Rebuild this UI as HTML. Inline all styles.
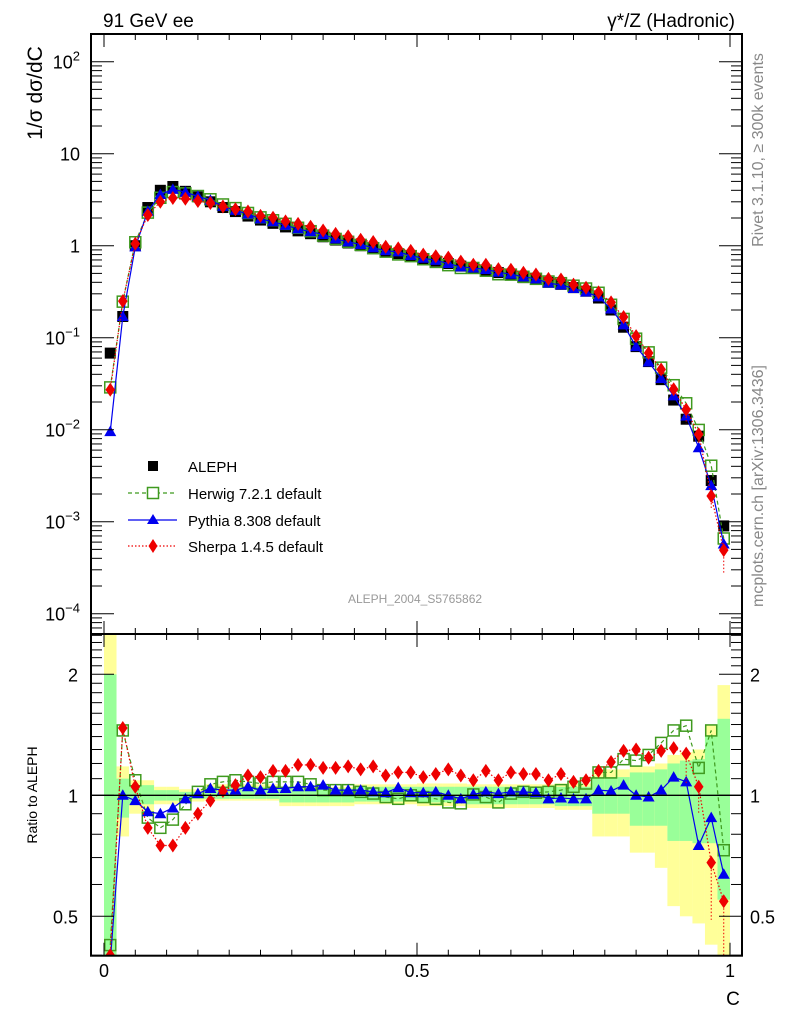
<!DOCTYPE html>
<html><head><meta charset="utf-8">
<style>
html,body{margin:0;padding:0;background:#fff;overflow:hidden;width:786px;height:1024px;}
svg{display:block;font-family:"Liberation Sans",sans-serif;}
</style></head>
<body>
<svg id="chart" width="786" height="1024" viewBox="0 0 786 1024" xmlns="http://www.w3.org/2000/svg">
<g id="bands"></g>
<g id="marks"></g>
<g id="axes"></g>
<text x="103" y="27" font-size="19">91 GeV ee</text>
<text x="735" y="27" font-size="19" text-anchor="end">γ*/Z (Hadronic)</text>
<text transform="translate(42,93) rotate(-90)" font-size="21" text-anchor="middle">1/σ  dσ/dC</text>
<text transform="translate(37,795) rotate(-90)" font-size="14" text-anchor="middle">Ratio to ALEPH</text>
<text x="733" y="1005" font-size="19" text-anchor="middle">C</text>
<text transform="translate(763,150) rotate(-90)" font-size="16" fill="#888" text-anchor="middle">Rivet 3.1.10, ≥ 300k events</text>
<text transform="translate(763,486) rotate(-90)" font-size="16" fill="#888" text-anchor="middle">mcplots.cern.ch [arXiv:1306.3436]</text>
<text x="415" y="603" font-size="12" fill="#999" text-anchor="middle">ALEPH_2004_S5765862</text>
<g id="legend">
  <g>
    <rect x="148" y="461" width="10" height="10" fill="#000"/>
    <text x="188" y="472" font-size="15">ALEPH</text>
  </g>
  <g>
    <line x1="128" y1="493" x2="177" y2="493" stroke="#3f9a1f" stroke-width="1.3" stroke-dasharray="4,3"/>
    <rect x="147.5" y="487.5" width="11" height="11" fill="#fff" stroke="#3f9a1f" stroke-width="1.5"/>
    <text x="188" y="499" font-size="15">Herwig 7.2.1 default</text>
  </g>
  <g>
    <line x1="128" y1="520" x2="177" y2="520" stroke="#0000ee" stroke-width="1.3"/>
    <polygon points="153,514 159,524 147,524" fill="#0000ee"/>
    <text x="188" y="526" font-size="15">Pythia 8.308 default</text>
  </g>
  <g>
    <line x1="128" y1="546" x2="177" y2="546" stroke="#ee0000" stroke-width="1.3" stroke-dasharray="1.5,2"/>
    <polygon points="153,539 157.5,546 153,553 148.5,546" fill="#ee0000"/>
    <text x="188" y="552" font-size="15">Sherpa 1.4.5 default</text>
  </g>
</g>
</svg>
<script>
const binCenters = [0.01,0.03,0.05,0.07,0.09,0.11,0.13,0.15,0.17,0.19,0.21,0.23,0.25,0.27,0.29,0.31,0.33,0.35,0.37,0.39,0.41,0.43,0.45,0.47,0.49,0.51,0.53,0.55,0.57,0.59,0.61,0.63,0.65,0.67,0.69,0.71,0.73,0.75,0.77,0.79,0.81,0.83,0.85,0.87,0.89,0.91,0.93,0.95,0.97,0.99];
const alephValues = [0.068,0.17,1.0,2.6,4.0,4.4,3.9,3.4,3.0,2.6,2.35,2.1,1.9,1.75,1.6,1.45,1.35,1.25,1.15,1.07,1.0,0.93,0.87,0.82,0.77,0.72,0.68,0.64,0.6,0.57,0.54,0.51,0.48,0.45,0.43,0.4,0.38,0.35,0.32,0.27,0.2,0.13,0.08,0.055,0.035,0.021,0.013,0.0085,0.0028,0.0009];
const herwigRatio = [0.424,1.45,1.09,0.88,0.83,0.87,0.95,1.02,1.065,1.08,1.09,1.08,1.07,1.08,1.08,1.08,1.065,1.03,1.03,1.03,1.02,1.01,0.99,0.98,1.0,0.99,0.98,0.96,0.955,1.005,0.99,0.96,1.01,1.02,1.015,1.02,1.03,1.05,1.07,1.14,1.14,1.23,1.22,1.26,1.35,1.45,1.49,1.17,1.45,0.73];
const pythiaRatio = [0.14,1.0,0.97,0.91,0.9,0.93,0.98,1.01,1.04,1.03,1.03,1.05,1.03,1.04,1.04,1.05,1.05,1.06,1.03,1.03,1.03,1.02,1.015,1.045,1.015,1.015,1.02,1.0,0.98,1.005,1.02,1.01,1.02,1.02,1.015,0.98,0.985,0.98,0.98,1.03,1.025,1.06,1.0,0.99,1.03,1.11,1.08,0.75,0.88,0.636];
const sherpaRatio = [0.40,1.47,1.05,0.83,0.75,0.75,0.83,0.9,0.97,1.025,1.06,1.12,1.11,1.15,1.15,1.19,1.19,1.17,1.17,1.18,1.16,1.18,1.12,1.14,1.14,1.11,1.13,1.16,1.12,1.09,1.15,1.09,1.14,1.13,1.13,1.09,1.13,1.08,1.09,1.15,1.21,1.29,1.3,1.24,1.29,1.31,1.27,1.05,0.68,0.545];
const sherpaErrLo = [0,0,0,0,0,0,0,0,0,0,0,0,0,0,0,0,0,0,0,0,0,0,0,0,0,0,0,0,0,0,0,0,0,0,0,0,0,0,0,0,0,0,0,0,0,0,0.2,0.15,0.19,0.3];
const yellowUp = [3,1.18,1.09,1.09,1.05,1.05,1.035,1.035,1.065,1.065,1.065,1.065,1.065,1.065,1.05,1.05,1.05,1.05,1.05,1.05,1.065,1.065,1.065,1.065,1.065,1.07,1.07,1.07,1.07,1.065,1.065,1.065,1.065,1.065,1.065,1.065,1.07,1.07,1.07,1.16,1.16,1.16,1.18,1.18,1.2,1.26,1.28,1.3,1.5,1.88];
const yellowDn = [0.3,0.79,0.9,0.9,0.95,0.95,0.965,0.965,0.97,0.97,0.97,0.97,0.97,0.97,0.94,0.94,0.94,0.94,0.94,0.94,0.95,0.95,0.95,0.95,0.95,0.94,0.94,0.94,0.94,0.93,0.93,0.93,0.93,0.93,0.93,0.93,0.92,0.92,0.92,0.79,0.79,0.79,0.72,0.72,0.66,0.53,0.5,0.48,0.425,0.3];
const greenUp = [2.0,1.1,1.06,1.06,1.03,1.03,1.02,1.02,1.05,1.05,1.05,1.05,1.05,1.05,1.04,1.04,1.04,1.04,1.04,1.04,1.05,1.05,1.05,1.05,1.05,1.05,1.05,1.05,1.05,1.05,1.05,1.05,1.05,1.05,1.05,1.05,1.05,1.05,1.05,1.11,1.11,1.11,1.14,1.14,1.16,1.2,1.22,1.23,1.4,1.55];
const greenDn = [0.3,0.88,0.95,0.95,0.97,0.97,0.98,0.98,0.98,0.98,0.98,0.98,0.98,0.98,0.96,0.96,0.96,0.96,0.96,0.96,0.965,0.965,0.965,0.965,0.965,0.96,0.96,0.96,0.96,0.95,0.95,0.95,0.95,0.95,0.95,0.95,0.94,0.94,0.94,0.9,0.9,0.9,0.84,0.84,0.84,0.77,0.77,0.76,0.76,0.55];
const topTickLabels = ["10^-4","10^-3","10^-2","10^-1","1","10","10^2"];
const ratioTickValues = [0.5,1,2];
const xTickValues = [0,0.5,1];

const NS = "http://www.w3.org/2000/svg";
const L = 91, R = 742, TT = 34, TB = 634, BB = 955.7;
const xs = c => 104 + 626 * c;
const yTop = v => 245.7 - 92 * Math.log10(v);
const yRat = r => 795.3 - 121 * Math.log2(r);
const clampB = y => Math.max(TB, Math.min(BB, y));
const clampT = y => Math.max(TT, Math.min(TB, y));
function mk(tag, attrs, parent) {
  const e = document.createElementNS(NS, tag);
  for (const k in attrs) e.setAttribute(k, attrs[k]);
  parent.appendChild(e); return e;
}
const bands = document.getElementById('bands');
const marks = document.getElementById('marks');
const axes = document.getElementById('axes');

const defs = mk('defs', {}, document.getElementById('chart'));
const c1 = mk('clipPath', {id: 'clipTop'}, defs); mk('rect', {x: L, y: TT, width: R - L, height: TB - TT}, c1);
const c2 = mk('clipPath', {id: 'clipBot'}, defs); mk('rect', {x: L, y: TB, width: R - L, height: BB - TB}, c2);
bands.setAttribute('clip-path', 'url(#clipBot)');

binCenters.forEach((c, i) => {
  const x0 = xs(c - 0.01), x1 = xs(c + 0.01);
  const yu = clampB(yRat(yellowUp[i])), yd = clampB(yRat(yellowDn[i]));
  const yb = mk('rect', {x: x0, y: yu, width: x1 - x0, height: yd - yu, fill: '#ffff99'}, bands);
  
  
  const gu = clampB(yRat(greenUp[i])), gd = clampB(yRat(greenDn[i]));
  const gb = mk('rect', {x: x0, y: gu, width: x1 - x0, height: gd - gu, fill: '#99ff99'}, bands);
  
  
});
mk('line', {x1: L, x2: R, y1: yRat(1), y2: yRat(1), stroke: '#000', 'stroke-width': 1.3}, axes);

const series = [
  {name: 'herwig', ratio: herwigRatio, color: '#3f9a1f', dash: '4,3', marker: 'osq'},
  {name: 'pythia', ratio: pythiaRatio, color: '#0000ee', dash: '', marker: 'tri'},
  {name: 'sherpa', ratio: sherpaRatio, color: '#ee0000', dash: '1.5,2', marker: 'dia'}
];
function marker(type, x, y, color, g) {
  let e;
  if (type === 'osq') e = mk('rect', {x: x - 5.5, y: y - 5.5, width: 11, height: 11, fill: 'none', stroke: color, 'stroke-width': 1.5}, g);
  else if (type === 'tri') e = mk('polygon', {points: `${x},${y - 6} ${x + 6},${y + 4.5} ${x - 6},${y + 4.5}`, fill: color}, g);
  else if (type === 'dia') e = mk('polygon', {points: `${x},${y - 7} ${x + 4.8},${y} ${x},${y + 7} ${x - 4.8},${y}`, fill: color}, g);
  else e = mk('rect', {x: x - 5.5, y: y - 5.5, width: 11, height: 11, fill: color}, g);
  return e;
}
const gTop = mk('g', {'clip-path': 'url(#clipTop)'}, marks);
const gBot = mk('g', {'clip-path': 'url(#clipBot)'}, marks);
binCenters.forEach((c, i) => {
  const m = marker('sq', xs(c), yTop(alephValues[i]), '#000', gTop);
  
  
});
series.forEach(s => {
  const ptsTop = binCenters.map((c, i) => `${xs(c)},${clampT(yTop(alephValues[i] * s.ratio[i]))}`).join(' ');
  const lt = mk('polyline', {points: ptsTop, fill: 'none', stroke: s.color, 'stroke-width': 1.2, 'stroke-dasharray': s.dash}, gTop);
  
  
  const ptsBot = binCenters.map((c, i) => `${xs(c)},${Math.min(BB + 6, yRat(s.ratio[i]))}`).join(' ');
  const lb = mk('polyline', {points: ptsBot, fill: 'none', stroke: s.color, 'stroke-width': 1.2, 'stroke-dasharray': s.dash}, gBot);
  
  
  binCenters.forEach((c, i) => {
    if (s.name === 'sherpa' && sherpaErrLo[i] > 0) {
      const v = alephValues[i] * s.ratio[i];
      mk('line', {x1: xs(c), x2: xs(c), y1: yTop(v), y2: clampT(yTop(v * (1 - sherpaErrLo[i] * 1.5))), stroke: s.color, 'stroke-dasharray': '1.5,2'}, gTop);
      mk('line', {x1: xs(c), x2: xs(c), y1: yRat(s.ratio[i]), y2: clampB(yRat(s.ratio[i] - sherpaErrLo[i])), stroke: s.color, 'stroke-dasharray': '1.5,2'}, gBot);
    }
    const yb = yRat(s.ratio[i]);
    if (yb < BB + 8) {
      const m2 = marker(s.marker, xs(c), yb, s.color, gBot);
      
      
    }
    const m1 = marker(s.marker, xs(c), yTop(alephValues[i] * s.ratio[i]), s.color, gTop);
    
    
  });
});

mk('rect', {x: L, y: TT, width: R - L, height: BB - TT, fill: 'none', stroke: '#000', 'stroke-width': 2}, axes);
mk('line', {x1: L, x2: R, y1: TB, y2: TB, stroke: '#000', 'stroke-width': 2}, axes);

for (let k = 0; k <= 20; k++) {
  const c = k * 0.05, x = xs(c), len = (k % 10 === 0) ? 13 : 6;
  [TT, TB].forEach(y => mk('line', {x1: x, x2: x, y1: y, y2: y + len, stroke: '#000', 'stroke-width': 1}, axes));
  [TB, BB].forEach(y => mk('line', {x1: x, x2: x, y1: y, y2: y - len, stroke: '#000', 'stroke-width': 1}, axes));
}
xTickValues.forEach(v => {
  const t = mk('text', {x: xs(v), y: 977, 'font-size': 18, 'text-anchor': 'middle'}, axes);
  t.textContent = String(v);
  
  
});
for (let d = -5; d <= 2; d++) {
  for (let m = 1; m <= 9; m++) {
    const v = m * Math.pow(10, d), y = yTop(v);
    if (y < TT || y > TB) continue;
    const len = m === 1 ? 23 : 11;
    mk('line', {x1: L, x2: L + len, y1: y, y2: y, stroke: '#000'}, axes);
    mk('line', {x1: R, x2: R - len, y1: y, y2: y, stroke: '#000'}, axes);
  }
}
topTickLabels.forEach((lab, i) => {
  const y = yTop(Math.pow(10, i - 4));
  const t = mk('text', {x: 80, y: y + 7, 'font-size': 18, 'text-anchor': 'end'}, axes);
  
  
  const p = lab.split('^');
  if (p.length === 1) t.textContent = lab;
  else {
    const a = mk('tspan', {}, t); a.textContent = p[0];
    const b = mk('tspan', {dy: -8, 'font-size': 13}, t); b.textContent = p[1].replace('-', '−');
  }
});
for (let v = 0.4; v <= 2.6; v += 0.1) {
  const y = yRat(v);
  if (y < TB || y > BB) continue;
  const major = Math.abs(v - 0.5) < 1e-6 || Math.abs(v - 1) < 1e-6 || Math.abs(v - 2) < 1e-6;
  const len = major ? 23 : 11;
  mk('line', {x1: L, x2: L + len, y1: y, y2: y, stroke: '#000'}, axes);
  mk('line', {x1: R, x2: R - len, y1: y, y2: y, stroke: '#000'}, axes);
}
ratioTickValues.forEach(v => {
  const y = yRat(v);
  const t1 = mk('text', {x: 78, y: y + 7, 'font-size': 18, 'text-anchor': 'end'}, axes);
  t1.textContent = String(v);
  
  
  const t2 = mk('text', {x: 750, y: y + 7, 'font-size': 18}, axes);
  t2.textContent = String(v);
  
  
});
</script>
</body></html>
